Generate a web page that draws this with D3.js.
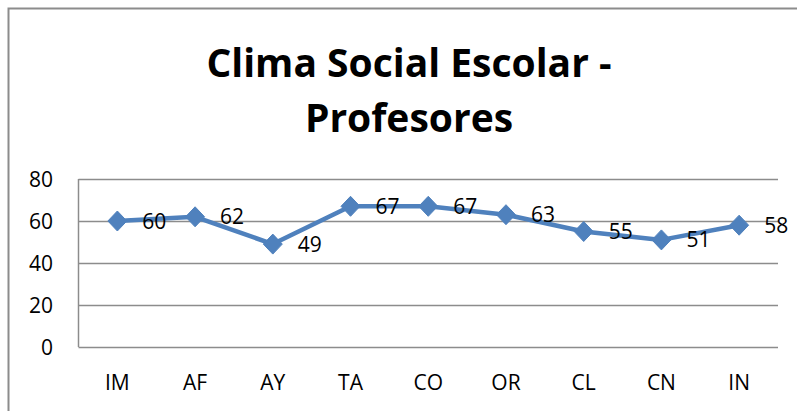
<!DOCTYPE html>
<html>
<head>
<meta charset="utf-8">
<script src="https://cdn.jsdelivr.net/npm/d3@7"></script>
<style>
  body { margin: 0; background: #fff; }
  svg text { font-family: "Open Sans", Lato, sans-serif; fill: #000; }
</style>
</head>
<body>
<svg id="chart" width="797" height="411"></svg>
<script>
var categories = ["IM", "AF", "AY", "TA", "CO", "OR", "CL", "CN", "IN"],
    values = [60, 62, 49, 67, 67, 63, 55, 51, 58],
    yTicks = [0, 20, 40, 60, 80],
    titleLines = ["Clima Social Escolar -", "Profesores"];

var svg = d3.select("#chart"),
    plotLeft = 78.5, plotRight = 778, plotTop = 179, plotBottom = 347,
    lineColor = "#4f81bd";

var x = d3.scaleBand().domain(categories).range([plotLeft, plotRight]);
var y = d3.scaleLinear().domain([0, 80]).range([plotBottom, plotTop]);

// chart border
svg.append("rect")
    .attr("x", 8.5).attr("y", 8.5)
    .attr("width", 820).attr("height", 420)
    .attr("fill", "none")
    .attr("stroke", "#8c8c8c")
    .attr("stroke-width", 2);

// title
svg.append("g").selectAll("text")
    .data(titleLines)
  .enter().append("text")
    .attr("x", 409)
    .attr("y", function (d, i) { return 77 + i * 55; })
    .attr("text-anchor", "middle")
    .style("font-size", "39px")
    .style("font-weight", "bold")
    .text(function (d) { return d; });

// gridlines
svg.append("g")
    .attr("transform", "translate(" + plotLeft + ",0)")
    .call(d3.axisLeft(y).tickValues(yTicks).tickSize(-(plotRight - plotLeft)).tickFormat(""))
    .call(function (g) {
      g.select(".domain").remove();
      g.selectAll(".tick line").attr("stroke", "#8c8c8c").attr("stroke-width", 1.5);
    });

// left axis line
svg.append("line")
    .attr("x1", plotLeft).attr("x2", plotLeft)
    .attr("y1", plotTop).attr("y2", plotBottom)
    .attr("stroke", "#8c8c8c").attr("stroke-width", 1.5);

// y tick labels
svg.append("g").selectAll("text")
    .data(yTicks)
  .enter().append("text")
    .attr("x", 53)
    .attr("y", function (d) { return y(d); })
    .attr("dy", "0.36em")
    .attr("text-anchor", "end")
    .style("font-size", "21px")
    .text(function (d) { return d; });

// x labels
svg.append("g").selectAll("text")
    .data(categories)
  .enter().append("text")
    .attr("x", function (d) { return x(d) + x.bandwidth() / 2; })
    .attr("y", 390)
    .attr("text-anchor", "middle")
    .style("font-size", "21px")
    .text(function (d) { return d; });

var cx = function (d, i) { return x(categories[i]) + x.bandwidth() / 2; };

// line
svg.append("path")
    .datum(values)
    .attr("fill", "none")
    .attr("stroke", lineColor)
    .attr("stroke-width", 4.5)
    .attr("stroke-linejoin", "round")
    .attr("d", d3.line().x(cx).y(function (d) { return y(d); }));

// diamond markers
svg.append("g").selectAll("path")
    .data(values)
  .enter().append("path")
    .attr("transform", function (d, i) { return "translate(" + cx(d, i) + "," + y(d) + ")"; })
    .attr("d", "M0,-10L9.5,0L0,10L-9.5,0Z")
    .attr("fill", lineColor)
    .attr("stroke", lineColor)
    .attr("stroke-width", 1);

// data labels
svg.append("g").selectAll("text")
    .data(values)
  .enter().append("text")
    .attr("x", function (d, i) { return cx(d, i) + 25; })
    .attr("y", function (d) { return y(d); })
    .attr("dy", "0.36em")
    .style("font-size", "21px")
    .text(function (d) { return d; });
</script>
</body>
</html>
